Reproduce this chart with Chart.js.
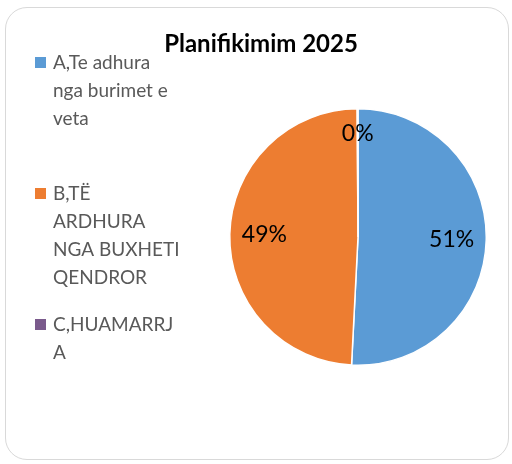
<!DOCTYPE html>
<html>
<head>
<meta charset="utf-8">
<script src="https://cdn.jsdelivr.net/npm/chart.js@4"></script>
<style>
  html, body { margin: 0; padding: 0; background: #fff; }
  #wrap { position: relative; width: 512px; height: 464px; }
  #frame {
    position: absolute; left: 5px; top: 7px; width: 502px; height: 451px;
    border: 1.5px solid #d9d9d9; border-radius: 22px;
  }
  #pie-chart { position: absolute; left: 0; top: 0; }
</style>
</head>
<body>
<div id="wrap">
  <div id="frame"></div>
  <canvas id="pie-chart" width="512" height="464"></canvas>
</div>
<script>
const chartTitle = 'Planifikimim 2025';

// legend text is wrapped the same way as in the picture
const categories = [
    ['A,Te adhura', 'nga burimet e', 'veta'],
    ['B,TË', 'ARDHURA', 'NGA BUXHETI', 'QENDROR'],
    ['C,HUAMARRJ', 'A']
];
const shares = [50.8, 49.1, 0.1];
const sliceColors = ['#5b9bd5', '#ed7d31', '#7a5a8c'];

const pieChart = document.getElementById('pie-chart');

// title, legend and percent labels, drawn like the Excel chart
const excelBits = {
    id: 'excelBits',
    afterDatasetsDraw(chart) {
        const ctx = chart.ctx;
        const meta = chart.getDatasetMeta(0);
        const values = chart.data.datasets[0].data;
        const total = values.reduce((a, b) => a + b, 0);

        ctx.save();
        ctx.fillStyle = '#000';
        ctx.font = '23px Lato';
        ctx.textAlign = 'center';
        ctx.textBaseline = 'middle';
        meta.data.forEach((arc, i) => {
            const p = arc.getProps(['x', 'y', 'startAngle', 'endAngle', 'outerRadius'], true);
            const mid = (p.startAngle + p.endAngle) / 2;
            const share = values[i] / total;
            const r = p.outerRadius * (share < 0.02 ? 0.81 : 0.73);
            ctx.fillText(Math.round(share * 100) + '%', p.x + Math.cos(mid) * r, p.y + Math.sin(mid) * r);
        });

        ctx.font = 'bold 24px Lato';
        ctx.fillText(chartTitle, 261, 44);

        ctx.textAlign = 'left';
        ctx.font = '19px Lato';
        chart.data.labels.forEach((lines, i) => {
            const top = 63 + i * 131;
            ctx.fillStyle = sliceColors[i];
            ctx.fillRect(35, top - 6, 11, 11);
            ctx.fillStyle = '#595959';
            lines.forEach((line, j) => {
                ctx.fillText(line, 53, top + j * 28);
            });
        });
        ctx.restore();
    }
};

new Chart(pieChart, {
    type: 'pie',
    data: {
        labels: categories,
        datasets: [{
            data: shares,
            backgroundColor: sliceColors,
            borderColor: '#ffffff',
            borderWidth: 1.5,
            hoverOffset: 0
        }]
    },
    options: {
        responsive: false,
        animation: false,
        layout: {
            padding: { left: 229, right: 25, top: 108, bottom: 98 }
        },
        plugins: {
            legend: { display: false },
            title: { display: false },
            tooltip: { enabled: false }
        }
    },
    plugins: [excelBits]
});
</script>
</body>
</html>
